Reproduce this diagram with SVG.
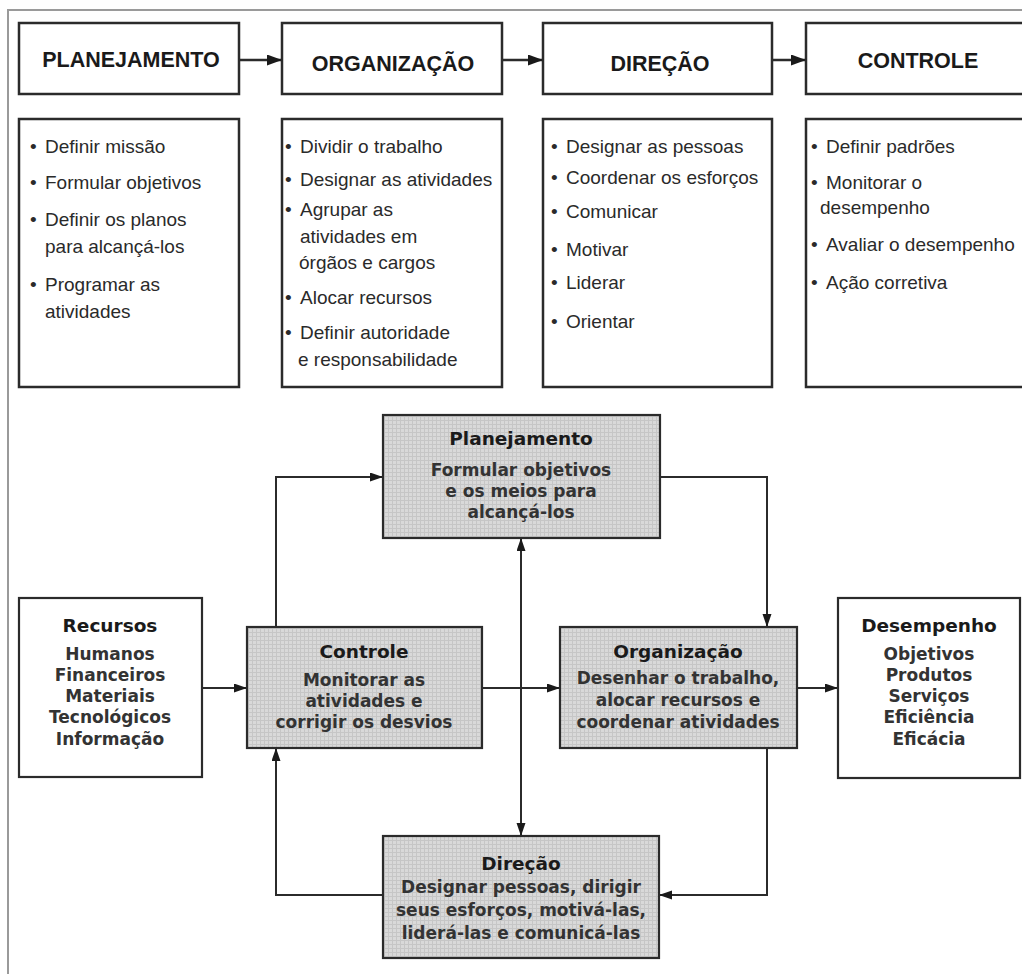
<svg xmlns="http://www.w3.org/2000/svg" width="1022" height="974" viewBox="0 0 1022 974">
<defs>
<marker id="ah" markerUnits="userSpaceOnUse" markerWidth="16" markerHeight="12" refX="15" refY="5.5" orient="auto-start-reverse"><path d="M0,0 L15,5.5 L0,11 z" fill="#1a1a1a"/></marker>
<marker id="as" markerUnits="userSpaceOnUse" markerWidth="14" markerHeight="10" refX="13" refY="4.5" orient="auto-start-reverse"><path d="M0,0 L13,4.5 L0,9 z" fill="#1a1a1a"/></marker>
<pattern id="hatch" width="4" height="4" patternUnits="userSpaceOnUse"><rect width="4" height="4" fill="#d9d9d9"/><path d="M0,0.5 H4 M0.5,0 V4" stroke="#c6c6c6" stroke-width="1"/></pattern>
</defs>
<style>
.hb{fill:#fff;stroke:#2b2b2b;stroke-width:2.5}
.lb{fill:#fff;stroke:#2b2b2b;stroke-width:2.5}
.sb{fill:url(#hatch);stroke:#2b2b2b;stroke-width:2.2}
.wb{fill:#fff;stroke:#2b2b2b;stroke-width:2.2}
.ht{font-family:"Liberation Sans",Arial,sans-serif;font-weight:bold;font-size:21.5px;fill:#1a1a1a;text-anchor:middle}
.lt{font-family:"Liberation Sans",Arial,sans-serif;font-size:19px;fill:#2a2a2a}
.bt{font-family:"DejaVu Sans",sans-serif;font-weight:bold;font-size:18.5px;fill:#1a1a1a;text-anchor:middle}
.bb{font-family:"DejaVu Sans",sans-serif;font-weight:bold;font-size:17px;fill:#333;text-anchor:middle}
.c{fill:none;stroke:#2b2b2b;stroke-width:2}
.ct{fill:none;stroke:#2b2b2b;stroke-width:2.5}
</style>
<rect width="1022" height="974" fill="#fff"/>
<path d="M8,974 V10 H1022" fill="none" stroke="#9a9a9a" stroke-width="2"/>

<g id="h-planejamento"><rect class="hb" x="19" y="23" width="220" height="71"/><text class="ht" x="131" y="67">PLANEJAMENTO</text></g>
<g id="h-organizacao"><rect class="hb" x="282" y="23" width="220" height="71"/><text class="ht" x="393" y="71">ORGANIZAÇÃO</text></g>
<g id="h-direcao"><rect class="hb" x="543" y="23" width="229" height="71"/><text class="ht" x="660" y="71">DIREÇÃO</text></g>
<g id="h-controle"><rect class="hb" x="806" y="23" width="226" height="71"/><text class="ht" x="918" y="68">CONTROLE</text></g>

<g id="l-planejamento"><rect class="lb" x="19" y="119" width="220" height="268"/>
<text class="lt"><tspan x="30" y="153">•</tspan><tspan x="45">Definir missão</tspan>
<tspan x="30" y="189">•</tspan><tspan x="45">Formular objetivos</tspan>
<tspan x="30" y="226">•</tspan><tspan x="45">Definir os planos</tspan>
<tspan x="45" y="253">para alcançá-los</tspan>
<tspan x="30" y="291">•</tspan><tspan x="45">Programar as</tspan>
<tspan x="45" y="318">atividades</tspan></text></g>

<g id="l-organizacao"><rect class="lb" x="282" y="119" width="220" height="268"/>
<text class="lt"><tspan x="285" y="153">•</tspan><tspan x="300">Dividir o trabalho</tspan>
<tspan x="285" y="186">•</tspan><tspan x="300">Designar as atividades</tspan>
<tspan x="285" y="216">•</tspan><tspan x="300">Agrupar as</tspan>
<tspan x="300" y="243">atividades em</tspan>
<tspan x="299" y="269">órgãos e cargos</tspan>
<tspan x="285" y="304">•</tspan><tspan x="300">Alocar recursos</tspan>
<tspan x="285" y="339">•</tspan><tspan x="300">Definir autoridade</tspan>
<tspan x="298" y="366">e responsabilidade</tspan></text></g>

<g id="l-direcao"><rect class="lb" x="543" y="119" width="229" height="268"/>
<text class="lt"><tspan x="551" y="153">•</tspan><tspan x="566">Designar as pessoas</tspan>
<tspan x="551" y="184">•</tspan><tspan x="566">Coordenar os esforços</tspan>
<tspan x="551" y="218">•</tspan><tspan x="566">Comunicar</tspan>
<tspan x="551" y="256">•</tspan><tspan x="566">Motivar</tspan>
<tspan x="551" y="289">•</tspan><tspan x="566">Liderar</tspan>
<tspan x="551" y="328">•</tspan><tspan x="566">Orientar</tspan></text></g>

<g id="l-controle"><rect class="lb" x="806" y="119" width="226" height="268"/>
<text class="lt"><tspan x="811" y="153">•</tspan><tspan x="826">Definir padrões</tspan>
<tspan x="811" y="189">•</tspan><tspan x="826">Monitorar o</tspan>
<tspan x="820" y="214">desempenho</tspan>
<tspan x="811" y="251">•</tspan><tspan x="826">Avaliar o desempenho</tspan>
<tspan x="811" y="289">•</tspan><tspan x="826">Ação corretiva</tspan></text></g>

<g id="connectors">
<line class="ct" x1="239" y1="60" x2="282" y2="60" marker-end="url(#ah)"/>
<line class="ct" x1="502" y1="60" x2="543" y2="60" marker-end="url(#ah)"/>
<line class="ct" x1="772" y1="60" x2="806" y2="60" marker-end="url(#ah)"/>
<line class="c" x1="202" y1="688" x2="247" y2="688" marker-end="url(#as)"/>
<line class="c" x1="482" y1="688" x2="560" y2="688" marker-end="url(#as)"/>
<line class="c" x1="797" y1="688" x2="838" y2="688" marker-end="url(#as)"/>
<polyline class="c" points="276,627 276,477 383,477" marker-end="url(#as)"/>
<polyline class="c" points="660,477 767,477 767,627" marker-end="url(#as)"/>
<line class="c" x1="521" y1="538" x2="521" y2="836" marker-start="url(#as)" marker-end="url(#as)"/>
<polyline class="c" points="767,748 767,895 659,895" marker-end="url(#as)"/>
<polyline class="c" points="383,895 276,895 276,748" marker-end="url(#as)"/>
</g>

<g id="n-planejamento"><rect class="sb" x="383" y="415" width="277" height="123"/>
<text class="bt" x="521" y="445">Planejamento</text>
<text class="bb" x="521" y="476">Formular objetivos</text>
<text class="bb" x="521" y="497">e os meios para</text>
<text class="bb" x="521" y="518">alcançá-los</text></g>

<g id="n-recursos"><rect class="wb" x="19" y="598" width="183" height="179"/>
<text class="bt" x="110" y="632">Recursos</text>
<text class="bb" x="110" y="660">Humanos</text>
<text class="bb" x="110" y="681">Financeiros</text>
<text class="bb" x="110" y="702">Materiais</text>
<text class="bb" x="110" y="723">Tecnológicos</text>
<text class="bb" x="110" y="745">Informação</text></g>

<g id="n-controle"><rect class="sb" x="247" y="627" width="235" height="121"/>
<text class="bt" x="364" y="658">Controle</text>
<text class="bb" x="364" y="686">Monitorar as</text>
<text class="bb" x="364" y="707">atividades e</text>
<text class="bb" x="364" y="728">corrigir os desvios</text></g>

<g id="n-organizacao"><rect class="sb" x="560" y="627" width="237" height="121"/>
<text class="bt" x="678" y="658">Organização</text>
<text class="bb" x="678" y="684">Desenhar o trabalho,</text>
<text class="bb" x="678" y="706">alocar recursos e</text>
<text class="bb" x="678" y="728">coordenar atividades</text></g>

<g id="n-desempenho"><rect class="wb" x="838" y="598" width="182" height="180"/>
<text class="bt" x="929" y="632">Desempenho</text>
<text class="bb" x="929" y="660">Objetivos</text>
<text class="bb" x="929" y="681">Produtos</text>
<text class="bb" x="929" y="702">Serviços</text>
<text class="bb" x="929" y="723">Eficiência</text>
<text class="bb" x="929" y="745">Eficácia</text></g>

<g id="n-direcao"><rect class="sb" x="383" y="836" width="276" height="122"/>
<text class="bt" x="521" y="870">Direção</text>
<text class="bb" x="521" y="893">Designar pessoas, dirigir</text>
<text class="bb" x="521" y="916">seus esforços, motivá-las,</text>
<text class="bb" x="521" y="939">liderá-las e comunicá-las</text></g>
</svg>
